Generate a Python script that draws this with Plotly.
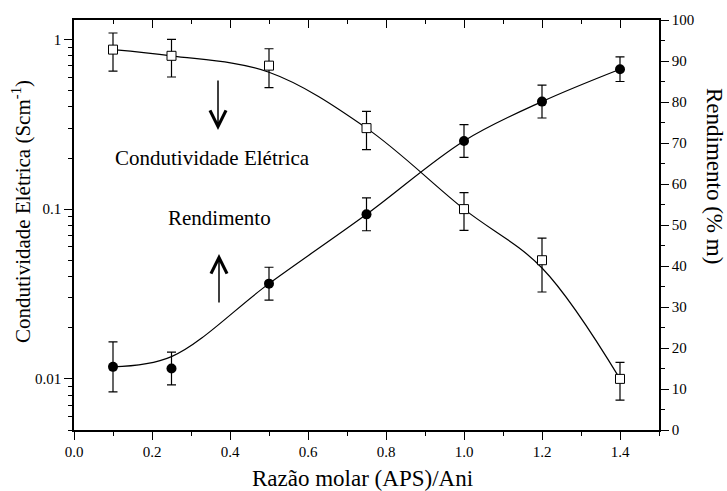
import plotly.graph_objects as go

# Razão molar (APS)/Ani
razao = [0.1, 0.25, 0.5, 0.75, 1.0, 1.2, 1.4]
# Condutividade elétrica (S/cm), desvio e curva ajustada
condutividade = [0.87, 0.80, 0.70, 0.30, 0.10, 0.050, 0.010]
condutividade_erro = [0.22, 0.20, 0.18, 0.076, 0.025, 0.0175, 0.0025]
condutividade_ajuste = [0.87, 0.80, 0.64, 0.30, 0.10, 0.045, 0.010]
# Rendimento (% m), desvio e curva ajustada
rendimento = [15.4, 15.0, 35.7, 52.6, 70.5, 80.1, 88.0]
rendimento_erro = [6.1, 4.0, 4.0, 4.0, 4.0, 4.0, 3.0]
rendimento_ajuste = [15.4, 17.9, 35.7, 52.6, 70.5, 80.1, 88.0]

x_ticks = [0.0, 0.2, 0.4, 0.6, 0.8, 1.0, 1.2, 1.4]
log_ticks = [0.01, 0.1, 1]
log_tick_text = ["0.01", "0.1", "1"]

W, H = 727, 491
L, R, T, B = 74, 659, 20, 430
FONT = "Liberation Serif"


def px(xp, yp):
    """pixel position -> paper coordinates"""
    return (xp - L) / (R - L), (B - yp) / (B - T)


minor_log = [m * 10 ** e for e in (-3, -2, -1) for m in range(2, 10)]

fig = go.Figure()

curve = dict(color="black", width=1.2, shape="spline", smoothing=1.0)

# fitted curves
fig.add_trace(go.Scatter(x=razao, y=condutividade_ajuste, xaxis="x", yaxis="y",
                         mode="lines", line=curve, showlegend=False,
                         hoverinfo="skip"))
fig.add_trace(go.Scatter(x=razao, y=rendimento_ajuste, xaxis="x2", yaxis="y2",
                         mode="lines", line=curve, showlegend=False,
                         hoverinfo="skip"))

# measured points with error bars
fig.add_trace(go.Scatter(
    x=razao, y=condutividade, xaxis="x", yaxis="y",
    mode="markers",
    marker=dict(symbol="square", size=9, color="white",
                line=dict(color="black", width=1)),
    error_y=dict(type="data", array=condutividade_erro, visible=True,
                 color="black", thickness=1.2, width=4.5),
    showlegend=False,
))
fig.add_trace(go.Scatter(
    x=razao, y=rendimento, xaxis="x2", yaxis="y2",
    mode="markers",
    marker=dict(symbol="circle", size=10, color="black"),
    error_y=dict(type="data", array=rendimento_erro, visible=True,
                 color="black", thickness=1.2, width=4.5),
    showlegend=False,
))

tickfont = dict(family=FONT, size=15, color="black")

fig.update_layout(
    width=W, height=H,
    margin=dict(l=L, r=W - R, t=T, b=H - B),
    paper_bgcolor="white", plot_bgcolor="white",
    font=dict(family=FONT, color="black"),
    xaxis=dict(
        range=[0, 1.5], tickvals=x_ticks, tickformat=".1f",
        ticks="outside", ticklen=8, tickwidth=1.2, tickcolor="black",
        minor=dict(dtick=0.1, tick0=0, ticks="outside", ticklen=4,
                   tickwidth=1.2, tickcolor="black", showgrid=False),
        showline=True, linecolor="black", linewidth=1.5,
        showgrid=False, zeroline=False, tickfont=tickfont,
        ticklabelstandoff=-1,
    ),
    xaxis2=dict(
        overlaying="x", side="top", anchor="y2",
        range=[0, 1.5], tickvals=x_ticks, showticklabels=False,
        ticks="inside", ticklen=8, tickwidth=1.2, tickcolor="black",
        minor=dict(dtick=0.1, tick0=0, ticks="inside", ticklen=4,
                   tickwidth=1.2, tickcolor="black", showgrid=False),
        showline=True, linecolor="black", linewidth=1.5,
        showgrid=False, zeroline=False,
    ),
    yaxis=dict(
        type="log", range=[-2.30103, 0.11394],
        tickvals=log_ticks, ticktext=log_tick_text,
        ticks="outside", ticklen=8, tickwidth=1.2, tickcolor="black",
        minor=dict(tickvals=minor_log, ticks="outside", ticklen=4,
                   tickwidth=1.2, tickcolor="black", showgrid=False),
        showline=True, linecolor="black", linewidth=1.5,
        showgrid=False, zeroline=False, tickfont=tickfont,
    ),
    yaxis2=dict(
        overlaying="y", side="right", anchor="x2",
        range=[0, 100], dtick=10, tick0=0,
        ticks="outside", ticklen=8, tickwidth=1.2, tickcolor="black",
        minor=dict(dtick=5, tick0=0, ticks="outside", ticklen=4,
                   tickwidth=1.2, tickcolor="black", showgrid=False),
        showline=True, linecolor="black", linewidth=1.5,
        showgrid=False, zeroline=False, tickfont=tickfont,
    ),
)

annotations = []


def label(text, xp, yp, size, angle=0):
    x, y = px(xp, yp)
    annotations.append(dict(
        text=text, x=x, y=y, xref="paper", yref="paper",
        xanchor="center", yanchor="middle", showarrow=False,
        textangle=angle, font=dict(family=FONT, size=size, color="black"),
    ))


def arrow(xp, tip_y, tail_y):
    x, y = px(xp, tip_y)
    annotations.append(dict(
        text="", x=x, y=y, xref="paper", yref="paper",
        ax=0, ay=tail_y - tip_y, axref="pixel", ayref="pixel",
        showarrow=True, arrowhead=5, arrowsize=2.1, arrowwidth=1.5,
        arrowcolor="black", standoff=0, startstandoff=0,
    ))


label("Condutividade Elétrica", 212, 158, 21)
label("Rendimento", 219, 218, 21)
arrow(218, 130, 79)
arrow(219, 254, 304)

label("Razão molar (APS)/Ani", 362, 478, 23)
label("Condutividade Elétrica (Scm<sup>-1</sup>)", 21, 212, 21, -90)
label("Rendimento (% m)", 715, 176, 23, 90)

fig.update_layout(annotations=annotations)

fig.write_html("out.html")
